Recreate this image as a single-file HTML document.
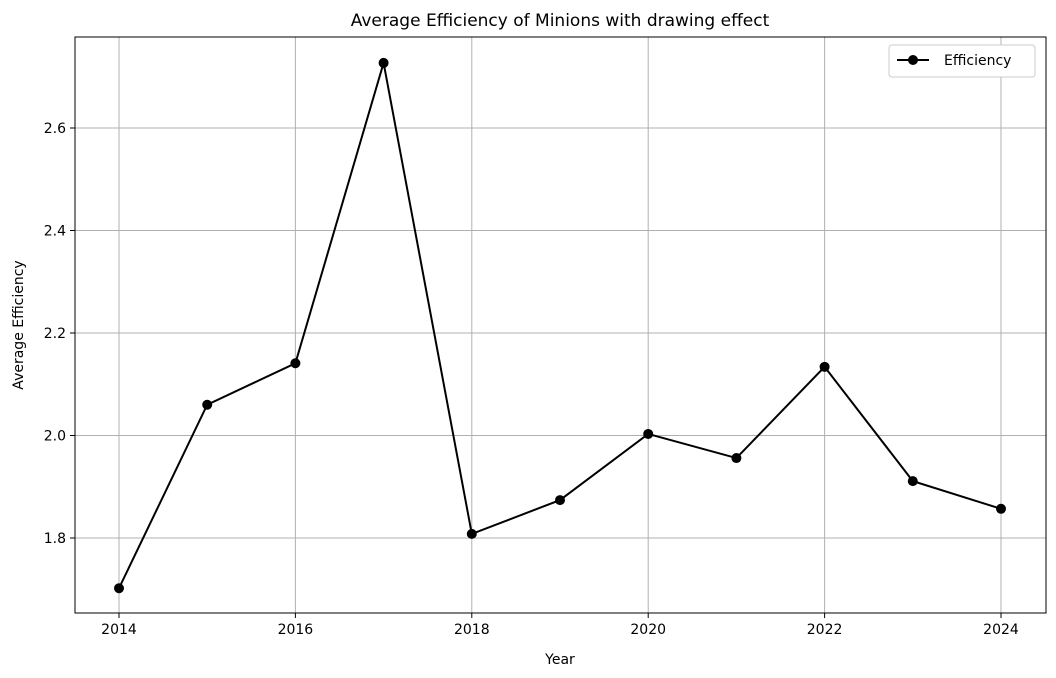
<!DOCTYPE html>
<html><head><meta charset="utf-8"><style>
html,body{margin:0;padding:0;background:#fff;}
svg{display:block;font-family:"DejaVu Sans","Liberation Sans",sans-serif;}
</style></head><body>
<svg id="chart" width="1056" height="678">
<g id="grid"></g>
<g id="axes"></g>
<g id="series"></g>
<text x="560" y="26" font-size="17" text-anchor="middle" fill="#000">Average Efficiency of Minions with drawing effect</text>
<text x="560" y="664" font-size="14" text-anchor="middle">Year</text>
<text transform="translate(23,325) rotate(-90)" font-size="14" text-anchor="middle">Average Efficiency</text>
<g>
<rect x="889" y="45" width="146" height="32" fill="#fff" stroke="#ccc" rx="3"/>
<line x1="897" y1="60" x2="929" y2="60" stroke="#000" stroke-width="2"/>
<circle cx="913" cy="60" r="5" fill="#000"/>
<text x="944" y="65" font-size="14">Efficiency</text>
</g>
</svg>
<script>
const years = [2014,2015,2016,2017,2018,2019,2020,2021,2022,2023,2024];
const efficiency = [1.702,2.060,2.141,2.727,1.808,1.874,2.003,1.956,2.134,1.911,1.857];
const xTicks = [2014,2016,2018,2020,2022,2024];
const yTicks = [1.8,2.0,2.2,2.4,2.6];

const L=75,R=1046,T=37,B=613;
const xs=v=>119+(v-2014)*88.2;
const ys=v=>538-(v-1.8)*512.5;
const NS="http://www.w3.org/2000/svg";
function mk(tag,attrs,parent){const e=document.createElementNS(NS,tag);for(const k in attrs)e.setAttribute(k,attrs[k]);parent.appendChild(e);return e;}
const grid=document.getElementById('grid'),axes=document.getElementById('axes'),series=document.getElementById('series');
xTicks.forEach(t=>{
  const x=xs(t);
  const g=mk('line',{x1:x,x2:x,y1:T,y2:B,stroke:'#b0b0b0','stroke-width':1},grid);
  
  
  const tk=mk('line',{x1:x,x2:x,y1:B,y2:B+5,stroke:'#000'},axes);
  
  
  const tx=mk('text',{x:x,y:B+21,'font-size':14,'text-anchor':'middle'},axes);
  tx.textContent=t;
  
  
});
yTicks.forEach(t=>{
  const y=ys(t);
  const g=mk('line',{x1:L,x2:R,y1:y,y2:y,stroke:'#b0b0b0','stroke-width':1},grid);
  
  
  const tk=mk('line',{x1:L-5,x2:L,y1:y,y2:y,stroke:'#000'},axes);
  
  
  const tx=mk('text',{x:L-9,y:y+5,'font-size':14,'text-anchor':'end'},axes);
  tx.textContent=t.toFixed(1);
  
  
});
const frame=mk('rect',{x:L,y:T,width:R-L,height:B-T,fill:'none',stroke:'#000','stroke-width':1},axes);


const pts=years.map((y,i)=>xs(y)+','+ys(efficiency[i])).join(' ');
const pl=mk('polyline',{points:pts,fill:'none',stroke:'#000','stroke-width':2},series);


years.forEach((y,i)=>{
  const c=mk('circle',{cx:xs(y),cy:ys(efficiency[i]),r:5,fill:'#000'},series);
  
  
});
</script>
</body></html>
